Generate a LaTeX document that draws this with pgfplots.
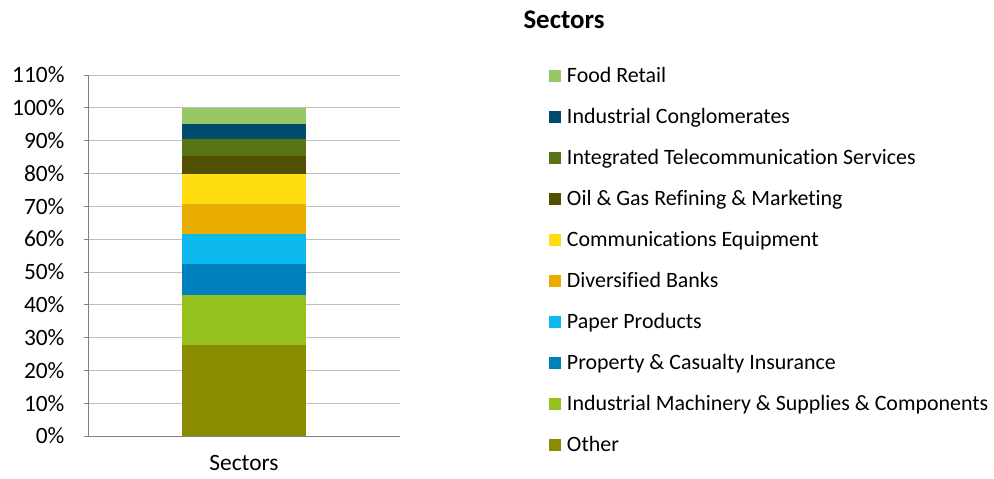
\documentclass[border=0pt]{standalone}
\usepackage{pgfplots}
\pgfplotsset{compat=1.18}
\usepackage{fontspec}
\setmainfont{Carlito}[Ligatures=NoCommon]

\definecolor{cOther}{RGB}{138,140,0}
\definecolor{cMach}{RGB}{149,193,31}
\definecolor{cProp}{RGB}{0,128,189}
\definecolor{cPaper}{RGB}{13,186,238}
\definecolor{cBank}{RGB}{233,172,0}
\definecolor{cComm}{RGB}{255,220,16}
\definecolor{cOil}{RGB}{80,80,0}
\definecolor{cTel}{RGB}{91,115,23}
\definecolor{cCong}{RGB}{0,76,112}
\definecolor{cFood}{RGB}{152,200,102}

\begin{document}
\begin{tikzpicture}
\fill[white] (-88bp,-43bp) rectangle (906bp,436bp);
\begin{axis}[
  scale only axis,
  width=312bp, height=361bp,
  ybar stacked,
  bar width=0.8,
  xmin=-1, xmax=1,
  ymin=0, ymax=110,
  xtick={0}, xticklabels={Sectors},
  major x tick style={draw=none},
  ytick={0,10,...,110},
  yticklabel={\pgfmathparse{int(\tick)}\pgfmathresult\%},
  ymajorgrids,
  grid style={draw=black!25, line width=0.8pt},
  axis x line*=bottom, axis y line*=left,
  axis line style={draw=black!50, line width=0.8pt},
  tick style={draw=black!50, line width=0.8pt},
  tick align=outside, major tick length=4bp,
  every axis x line/.append style={-},
  every axis y line/.append style={-},
  ticklabel style={font=\fontsize{23.5}{26}\selectfont},
  yticklabel style={xshift=-16bp},
  xticklabel style={yshift=-12bp},
  reverse legend,
  legend style={
    at={(461bp,370bp)}, anchor=north west,
    draw=none, fill=none, inner sep=0pt, outer sep=0pt,
    font=\fontsize{22}{24}\selectfont,
    cells={anchor=west},
    row sep=18bp,
    nodes={inner sep=1pt, text height=16bp, text depth=5bp},
    /tikz/every odd column/.append style={column sep=5bp},
  },
  legend image code/.code={\fill[#1] (0bp,-4.5bp) rectangle (12bp,7.5bp);},
  every axis plot/.append style={draw=none},
]
\addplot[fill=cOther] coordinates {(0,27.7)};
\addplot[fill=cMach]  coordinates {(0,15.3)};
\addplot[fill=cProp]  coordinates {(0,9.4)};
\addplot[fill=cPaper] coordinates {(0,9.2)};
\addplot[fill=cBank]  coordinates {(0,9.1)};
\addplot[fill=cComm]  coordinates {(0,9.2)};
\addplot[fill=cOil]   coordinates {(0,5.5)};
\addplot[fill=cTel]   coordinates {(0,5.2)};
\addplot[fill=cCong]  coordinates {(0,4.6)};
\addplot[fill=cFood]  coordinates {(0,4.8)};
\legend{Other, Industrial Machinery \& Supplies \& Components, Property \& Casualty Insurance, Paper Products, Diversified Banks, Communications Equipment, Oil \& Gas Refining \& Marketing, Integrated Telecommunication Services, Industrial Conglomerates, Food Retail}
\end{axis}
\node[font=\bfseries\fontsize{27}{30}\selectfont] at (476bp,416bp) {Sectors};
\end{tikzpicture}
\end{document}
